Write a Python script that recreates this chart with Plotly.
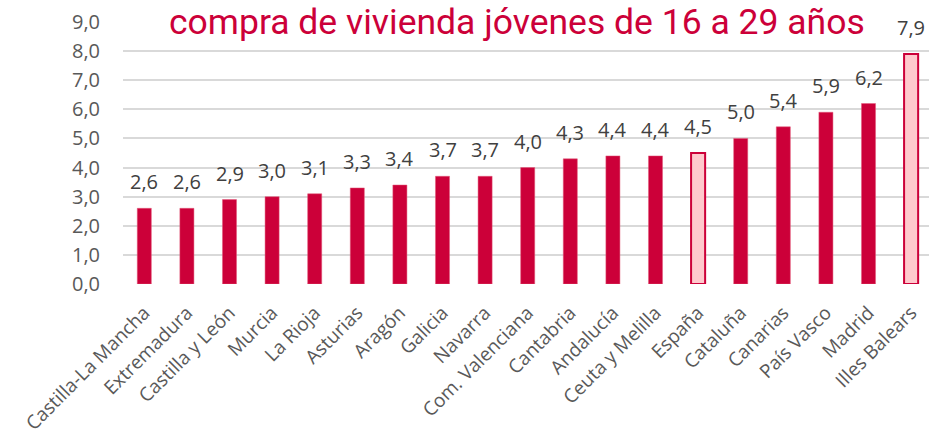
import plotly.graph_objects as go

# Regions ordered by value; España and Illes Balears are highlighted
regions = ["Castilla-La Mancha", "Extremadura", "Castilla y León", "Murcia", "La Rioja",
           "Asturias", "Aragón", "Galicia", "Navarra", "Com. Valenciana", "Cantabria",
           "Andalucía", "Ceuta y Melilla", "España", "Cataluña", "Canarias", "País Vasco",
           "Madrid", "Illes Balears"]
values = [2.6, 2.6, 2.9, 3.0, 3.1, 3.3, 3.4, 3.7, 3.7, 4.0, 4.3, 4.4, 4.4, 4.5,
          5.0, 5.4, 5.9, 6.2, 7.9]
highlighted = ["España", "Illes Balears"]
y_ticks = [0, 1, 2, 3, 4, 5, 6, 7, 8, 9]

CRIMSON = "#CC0039"
PINK = "#FFC9CD"

fill_colors = [PINK if r in highlighted else CRIMSON for r in regions]
line_colors = [CRIMSON if r in highlighted else "#E25A7A" for r in regions]
line_widths = [2 if r in highlighted else 0.5 for r in regions]

fig = go.Figure()
fig.add_trace(go.Bar(
    x=regions,
    y=values,
    width=0.33,
    marker=dict(color=fill_colors, line=dict(color=line_colors, width=line_widths)),
    hoverinfo="skip",
))

# Value labels above each bar
for r, v in zip(regions, values):
    fig.add_annotation(
        x=r, y=v, text=f"{v:.1f}".replace(".", ","),
        showarrow=False, yanchor="bottom", yshift=11,
        font=dict(family="Open Sans", size=20, color="#404040"),
    )

# Title text at the top of the page
fig.add_annotation(
    xref="paper", yref="paper", x=0.489, y=1.0, yanchor="middle", xanchor="center",
    text="compra de vivienda jóvenes de 16 a 29 años",
    showarrow=False, yshift=0,
    font=dict(family="Roboto", size=35.5, color="#CC0039"),
)

fig.update_layout(
    width=929, height=441,
    margin=dict(l=123, r=0, t=22, b=157),
    paper_bgcolor="white", plot_bgcolor="white",
    separators=",.",
    showlegend=False,
    bargap=0.67,
    font=dict(family="Open Sans", color="#595959"),
)
fig.update_xaxes(
    range=[-0.5, 18.42], tickangle=-45, showgrid=False, showline=False,
    ticks="", ticklabelstandoff=13, automargin=False,
    tickfont=dict(family="Open Sans", size=19, color="#595959"),
)
fig.update_yaxes(
    range=[0, 9], tickvals=y_ticks, tickformat=".1f",
    showgrid=True, gridcolor="#D9D9D9", gridwidth=1.5, zeroline=False,
    showline=False, ticks="", ticklabelstandoff=22, automargin=False,
    tickfont=dict(family="Open Sans", size=20, color="#595959"),
)

fig.write_html("out.html")
